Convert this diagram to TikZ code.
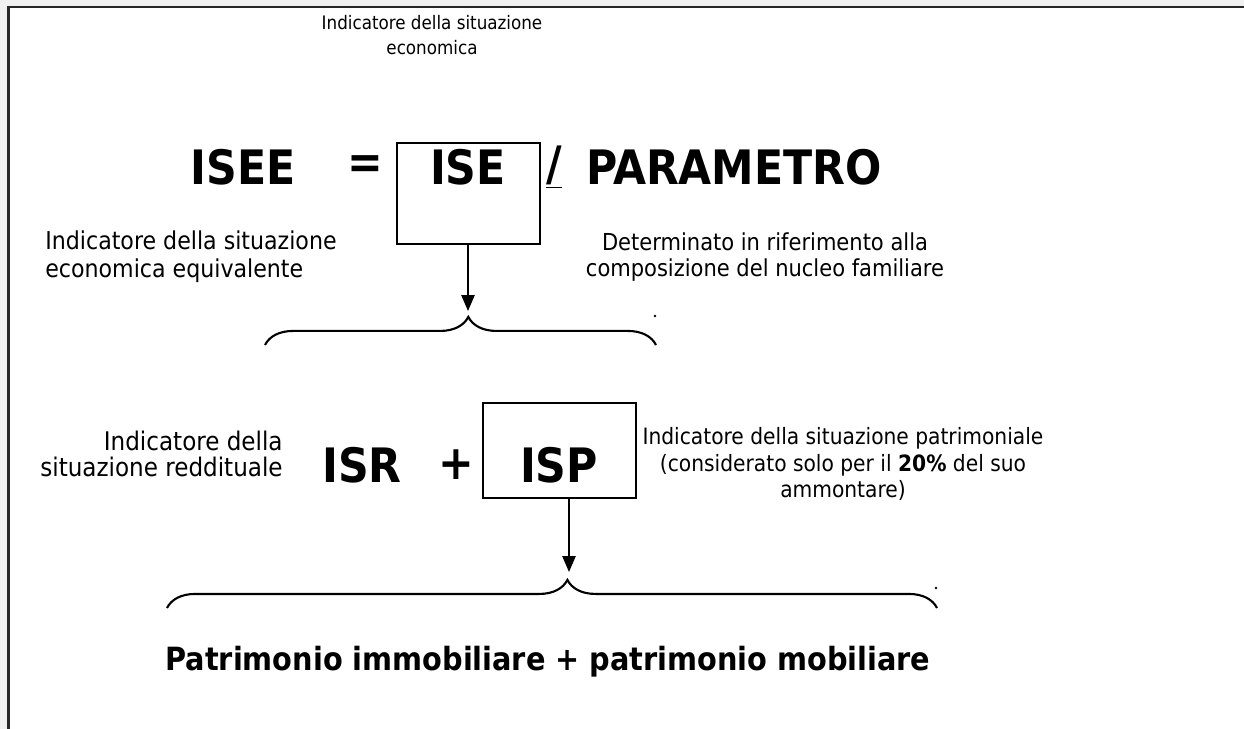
\documentclass[tikz,border=0pt]{standalone}
\usepackage{fontspec}
\setmainfont{DejaVu Sans Condensed}
\usetikzlibrary{arrows.meta,decorations.pathreplacing}
\tikzset{
  lbl/.style={font=\fontsize{13.3}{15.2}\selectfont,inner sep=0pt},
  big/.style={font=\fontsize{27}{30}\selectfont\bfseries,inner sep=0pt},
  tot/.style={font=\fontsize{18.2}{22}\selectfont\bfseries,inner sep=0pt},
  boxed/.style={draw,line width=1.1pt,inner sep=0pt},
  arr/.style={-{Triangle[length=9pt,width=7.5pt]},line width=0.9pt},
  brc/.style={decorate,decoration={brace,amplitude=16pt,aspect=0.52},line width=1.2pt},
}
\begin{document}
\begin{tikzpicture}[x=0.02cm,y=-0.02cm]
  \useasboundingbox (0,0) rectangle (1244,729);
  % frame
  \fill[black!6] (0,0) rectangle (1244,729);
  \fill[white] (9,8) rectangle (1244,729);
  \draw[line width=1.2pt,black!85] (8.5,729) |- (1244,7);
  % top line
  \node[lbl,align=center,font=\fontsize{10.6}{14.7}\selectfont] (iseLbl) at (432,35) {Indicatore della situazione\\economica};
  \node[big] (isee) at (243,167) {ISEE};
  \node[big] (eq) at (365,167) {=};
  \node[boxed,minimum width=2.86cm,minimum height=2.02cm] (iseBox) at (468.5,193.5) {};
  \node[big] (ise) at (468,167) {ISE};
  \node[big] (slash) at (554,167) {\underline{/}};
  \node[big] (param) at (734,167) {PARAMETRO};
  \node[lbl,align=left,anchor=west,font=\fontsize{14}{15.9}\selectfont] (iseeLbl) at (45,257) {Indicatore della situazione\\economica equivalente};
  \node[lbl,align=center] (paramLbl) at (765,257) {Determinato in riferimento alla\\composizione del nucleo familiare};
  \coordinate (iseTip) at (468,311);
  \draw[arr] (iseBox.south -| iseTip) -- (iseTip);
  \draw[brc] (265,345) -- (656,345);
  \fill (655,316) circle (1.4);
  % second line
  \node[lbl,align=right,anchor=east,font=\fontsize{14.6}{14.8}\selectfont] (isrLbl) at (283,454) {Indicatore della\\situazione reddituale};
  \node[big] (isr) at (362,465) {ISR};
  \node[big] (plus) at (456,465) {+};
  \node[boxed,minimum width=3.06cm,minimum height=1.9cm] (ispBox) at (559.5,450.5) {};
  \node[big] (isp) at (559,465) {ISP};
  \node[lbl,align=center,font=\fontsize{12.8}{15}\selectfont] (ispLbl) at (843,464) {Indicatore della situazione patrimoniale\\(considerato solo per il \textbf{20\%} del suo\\ammontare)};
  \coordinate (ispTip) at (569,572);
  \draw[arr] (ispBox.south -| ispTip) -- (ispTip);
  \draw[brc] (167,608) -- (937,608);
  \fill (936,588) circle (1.4);
  \node[tot] (patr) at (548,662) {Patrimonio immobiliare + patrimonio mobiliare};
\end{tikzpicture}
\end{document}
